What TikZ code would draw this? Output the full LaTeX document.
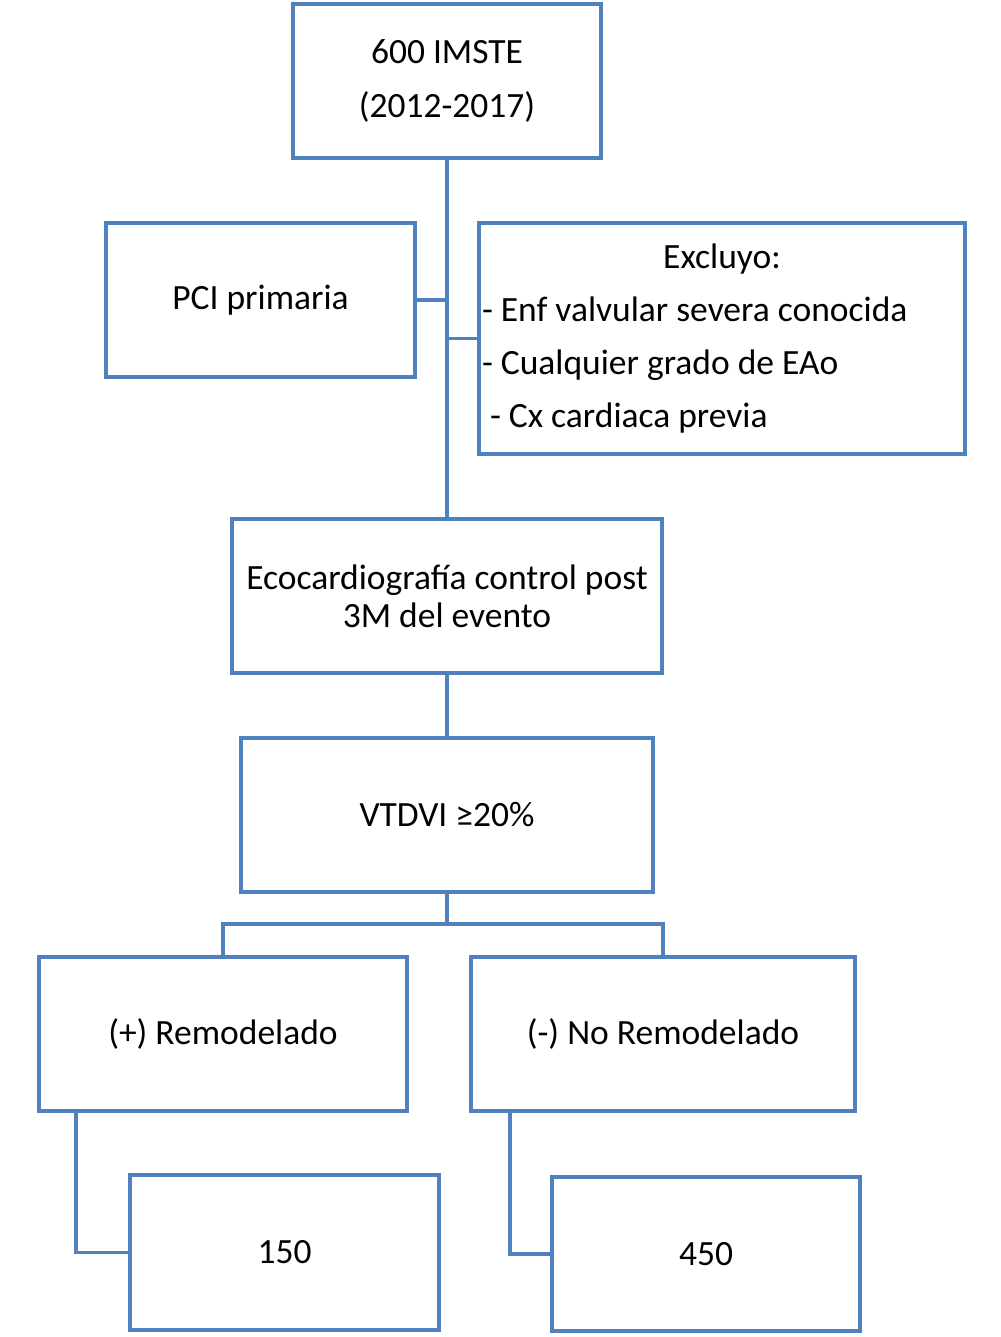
\documentclass[tikz,border=0pt]{standalone}
\usepackage{fontspec}
\setmainfont{Carlito}
\usepackage{tikz}
\usetikzlibrary{positioning,calc}

\definecolor{boxblue}{RGB}{79,129,189}

\begin{document}
\begin{tikzpicture}[
  box/.style={draw=boxblue,line width=2pt,rectangle,outer sep=0pt,
    minimum height=3.08cm,align=center,
    font=\fontsize{20.2}{30.3}\selectfont},
  link/.style={draw=boxblue,line width=2pt}]

\useasboundingbox (0,0) rectangle (20,-26.74);

% Population
\node[box,minimum width=6.16cm] (top) at (8.94,-1.62)
{600 IMSTE\\(2012-2017)};

% Side boxes
\node[box,minimum width=6.18cm] (pci) at (5.21,-6.00) {PCI primaria};

\node[box,minimum height=4.62cm,text width=9.60cm,inner xsep=0.06cm,
  align=flush left] (excl) at (14.44,-6.77)
{\hfill Excluyo:\hfill\null\\
- Enf valvular severa conocida\\
- Cualquier grado de EAo\\
\mbox{} - Cx cardiaca previa};

% Follow-up
\node[box,minimum width=8.60cm,font=\fontsize{20.2}{21.5}\selectfont]
(eco) at (8.94,-11.92)
{Ecocardiografía control post\\3M del evento};

\node[box,minimum width=8.24cm] (vtd) at (8.94,-16.30) {VTDVI ≥20\%};

% Groups
\node[box,minimum width=7.36cm] (rem) at (4.46,-20.68) {(+) Remodelado};
\node[box,minimum width=7.68cm] (norem) at (13.26,-20.68) {(-) No Remodelado};

\node[box,minimum width=6.18cm,minimum height=3.10cm] (n150) at (5.69,-25.05) {150};
\node[box,minimum width=6.16cm] (n450) at (14.12,-25.08) {450};

% Trunk
\draw[link] (top.south) -- (eco.north);
\draw[link] (pci.east) -- (pci.east -| top.south);
\draw[link] (excl.west) -- (excl.west -| top.south);
\draw[link] (eco.south) -- (vtd.north);

% Split
\coordinate (split) at (8.94,-18.48);
\draw[link] (vtd.south) -- (split);
\draw[link] (rem.north) |- (split) -| (norem.north);

% Counts
\draw[link] ([xshift=0.74cm]rem.south west) |- (n150.west);
\draw[link] ([xshift=0.78cm]norem.south west) |- (n450.west);

\end{tikzpicture}
\end{document}
